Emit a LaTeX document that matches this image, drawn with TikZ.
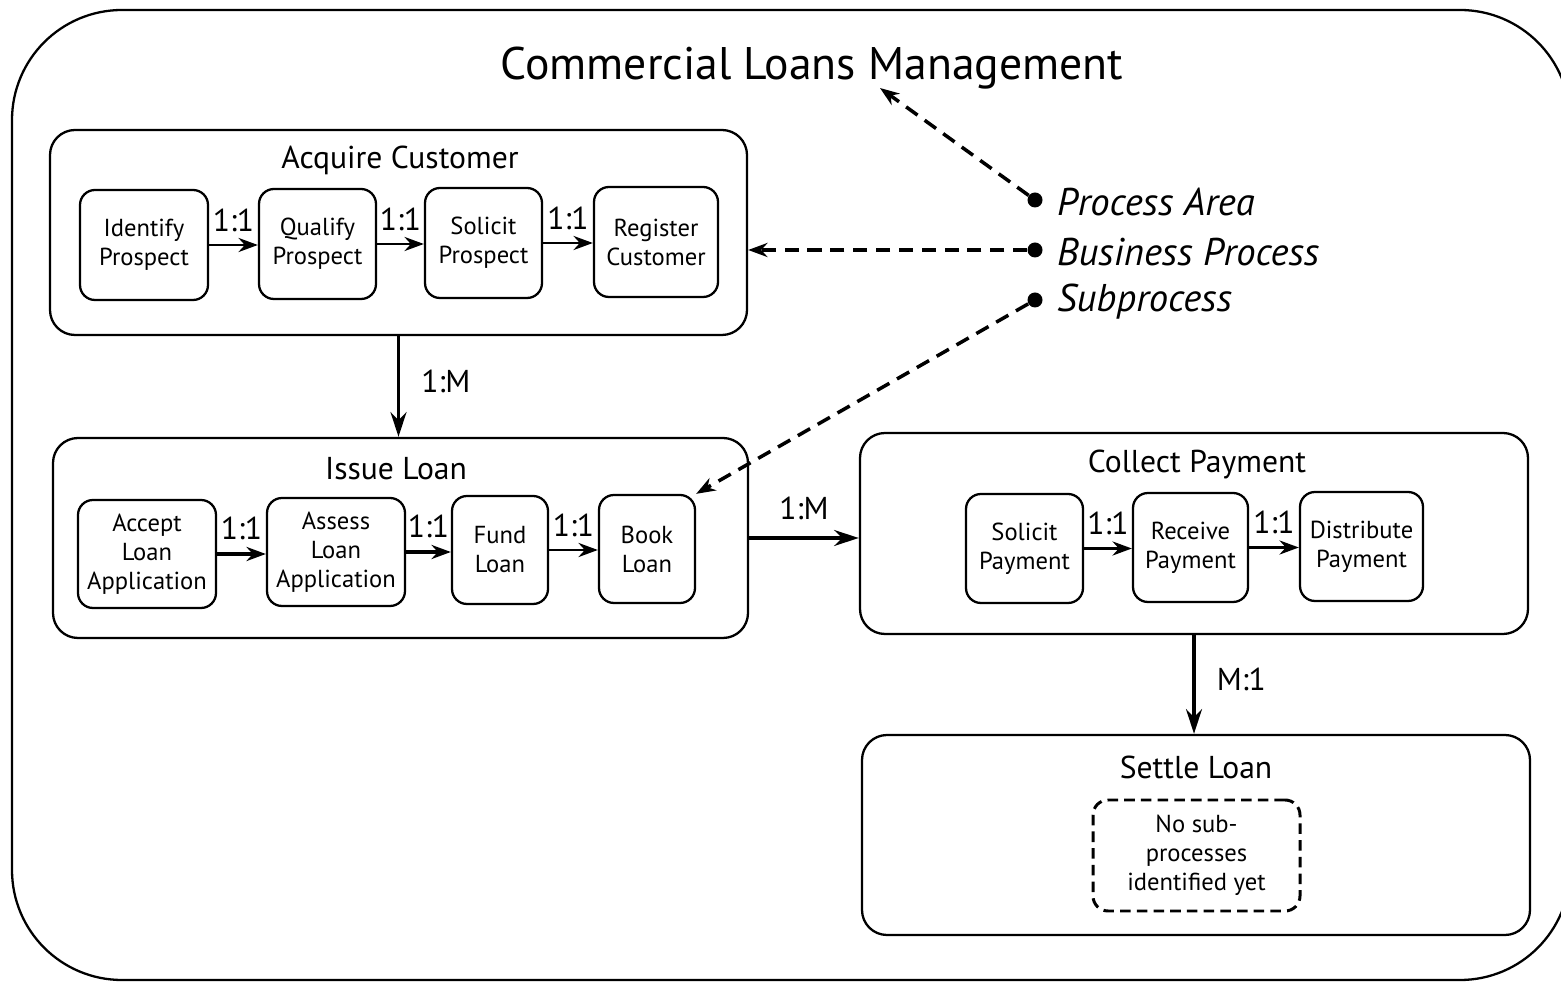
\documentclass[tikz,border=0pt]{standalone}
\usepackage{fontspec}
\setmainfont{PT Sans}
\usetikzlibrary{arrows.meta,positioning,calc}

\begin{document}
\begin{tikzpicture}[
		area/.style={draw, line width=1.3pt, rounded corners=0.5cm},
		subproc/.style={draw, line width=1.3pt, rounded corners=0.3cm, align=center, inner sep=0pt, font=\fontsize{14}{16.5}\selectfont},
		link/.style={-{Stealth[length=14pt,width=9pt]}, line width=2.2pt},
		sublink/.style={-{Stealth[length=11pt,width=8pt]}, line width=1.6pt},
		pointer/.style={-{Stealth[length=11pt,width=8pt,open]}, line width=2pt, dash pattern=on 8pt off 5pt},
		ratio/.style={font=\fontsize{18}{20}\selectfont},
		areatitle/.style={font=\fontsize{18}{20}\selectfont},
		legend/.style={anchor=west, font=\fontsize{22}{24}\selectfont\itshape},
		bullet/.style={circle, fill, inner sep=0pt, minimum size=0.3cm}
	]
				\useasboundingbox (0,0) rectangle (31.22,-19.64);
				\clip (0,0) rectangle (31.22,-19.64);

				% Frame
				\draw[line width=1.3pt, rounded corners=2.2cm] (0.24,-0.2) rectangle (31.4,-19.6);
				\node (title) at (16.24,-1.36) {\fontsize{26}{30}\selectfont Commercial Loans Management};

				% Acquire Customer
				\node[area, minimum width=13.94cm, minimum height=4.1cm] (acq) at (7.97,-4.65) {};
				\node[areatitle] (acqtitle) at (8.0,-3.2) {Acquire Customer};
				\node[subproc, minimum width=2.56cm, minimum height=2.2cm] (ip) at (2.88,-4.9) {Identify\\Prospect};
				\node[subproc, minimum width=2.34cm, minimum height=2.2cm] (qp) at (6.35,-4.88) {Qualify\\Prospect};
				\node[subproc, minimum width=2.34cm, minimum height=2.2cm] (sp) at (9.67,-4.86) {Solicit\\Prospect};
				\node[subproc, minimum width=2.48cm, minimum height=2.2cm] (rc) at (13.12,-4.84) {Register\\Customer};
				\draw[sublink] (ip.east) -- node[ratio, above=0.12cm] {1:1} (ip.east -| qp.west);
				\draw[sublink] (qp.east) -- node[ratio, above=0.12cm] {1:1} (qp.east -| sp.west);
				\draw[sublink] (sp.east) -- node[ratio, above=0.12cm] {1:1} (sp.east -| rc.west);

				% Issue Loan
				\node[area, minimum width=13.9cm, minimum height=4.0cm] (iss) at (8.01,-10.76) {};
				\node[areatitle] (isstitle) at (7.92,-9.38) {Issue Loan};
				\node[subproc, minimum width=2.76cm, minimum height=2.16cm] (al) at (2.94,-11.08) {Accept\\Loan\\Application};
				\node[subproc, minimum width=2.76cm, minimum height=2.16cm] (sl) at (6.72,-11.04) {Assess\\Loan\\Application};
				\node[subproc, minimum width=1.92cm, minimum height=2.16cm] (fl) at (10.0,-11.0) {Fund\\Loan};
				\node[subproc, minimum width=1.92cm, minimum height=2.16cm] (bl) at (12.94,-10.98) {Book\\Loan};
				\draw[sublink, line width=2.2pt] (al.east) -- node[ratio, above=0.12cm] {1:1} (al.east -| sl.west);
				\draw[sublink, line width=2.2pt] (sl.east) -- node[ratio, above=0.12cm] {1:1} (sl.east -| fl.west);
				\draw[sublink] (fl.east) -- node[ratio, above=0.12cm] {1:1} (fl.east -| bl.west);

				% Collect Payment
				\node[area, minimum width=13.36cm, minimum height=4.02cm] (col) at (23.88,-10.67) {};
				\node[areatitle] (coltitle) at (23.94,-9.28) {Collect Payment};
				\node[subproc, minimum width=2.34cm, minimum height=2.18cm] (sop) at (20.49,-10.97) {Solicit\\Payment};
				\node[subproc, minimum width=2.3cm, minimum height=2.18cm] (rp) at (23.81,-10.95) {Receive\\Payment};
				\node[subproc, minimum width=2.46cm, minimum height=2.18cm] (dp) at (27.23,-10.93) {Distribute\\Payment};
				\draw[sublink] (sop.east) -- node[ratio, above=0.12cm] {1:1} (sop.east -| rp.west);
				\draw[sublink] (rp.east) -- node[ratio, above=0.12cm] {1:1} (rp.east -| dp.west);

				% Settle Loan
				\node[area, minimum width=13.36cm, minimum height=4.0cm] (set) at (23.92,-16.7) {};
				\node[areatitle] (settitle) at (23.92,-15.34) {Settle Loan};
				\node[subproc, dashed, line width=1.7pt, dash pattern=on 6pt off 3.5pt, minimum width=4.14cm, minimum height=2.22cm] (none) at (23.93,-17.11) {No sub-\\processes\\identified yet};

				% Area links
				\draw[link] (acq.south) -- node[ratio, right=0.3cm, pos=0.45] {1:M} (acq.south |- iss.north);
				\draw[link] (iss.east) -- node[ratio, above=0.2cm] {1:M} (iss.east -| col.west);
				\draw[link] (col.south) -- node[ratio, right=0.3cm, pos=0.45] {M:1} (col.south |- set.north);

				% Legend
				\node[bullet] (pa) at (20.7,-4.0) {};
				\node[bullet] (bp) at (20.7,-5.0) {};
				\node[bullet] (sb) at (20.7,-6.0) {};
				\node[legend] (patext) at (21.02,-4.04) {Process Area};
				\node[legend] (bptext) at (21.02,-5.04) {Business Process};
				\node[legend] (sbtext) at (21.02,-6.04) {Subprocess};
				\coordinate (patip) at (17.6,-1.76);
				\draw[pointer] (pa) -- (patip);
				\draw[pointer] (bp) -- (bp -| acq.east);
				\draw[pointer] (sb) -- (bl.north east);
\end{tikzpicture}
\end{document}
